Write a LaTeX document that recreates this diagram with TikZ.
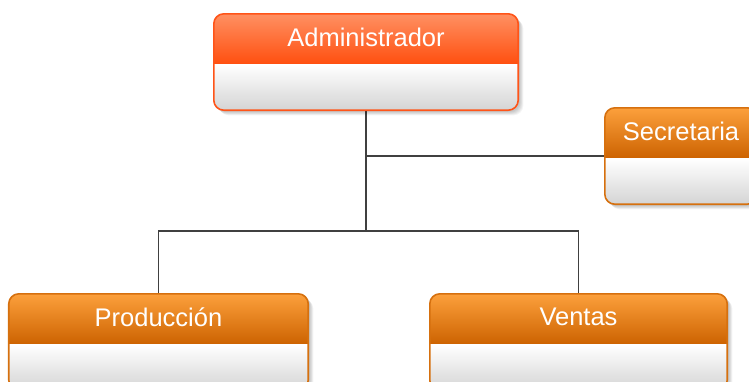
\documentclass[tikz,border=0pt]{standalone}
\usepackage{fontspec}
\setmainfont{Liberation Sans}
\definecolor{admTop}{RGB}{255,144,98}
\definecolor{admBot}{RGB}{255,78,14}
\definecolor{admLine}{RGB}{255,84,24}
\definecolor{orTop}{RGB}{252,160,60}
\definecolor{orBot}{RGB}{204,98,0}
\definecolor{orLine}{RGB}{214,112,14}
\definecolor{bodyBot}{RGB}{212,212,212}
\definecolor{conn}{RGB}{64,64,64}
\tikzset{
  boxframe/.style={minimum height=96bp, inner sep=0pt},
  boxtitle/.style={text=white, font=\fontsize{25.5bp}{30bp}\selectfont, anchor=center},
  link/.style={draw=conn, line width=1.4bp}
}
% #1 node name, #2 top colour, #3 bottom colour, #4 border colour, #5 title
\newcommand{\orgpaint}[5]{%
  \foreach \k in {1,...,6}{%
    \fill[black, opacity=0.04, rounded corners=10bp]
      ([xshift=1bp+0.7*\k bp, yshift=-1bp-0.7*\k bp]#1.north west) rectangle
      ([xshift=1bp+0.7*\k bp, yshift=-1bp-0.7*\k bp]#1.south east);}
  \begin{scope}
    \clip[rounded corners=10bp] (#1.north west) rectangle (#1.south east);
    \shade[top color=#2, bottom color=#3] (#1.north west) rectangle ([yshift=-51bp]#1.north east);
    \shade[top color=white, bottom color=bodyBot] ([yshift=-51bp]#1.north west) rectangle (#1.south east);
  \end{scope}
  \draw[#4, line width=1.6bp, rounded corners=10bp] (#1.north west) rectangle (#1.south east);
  \node[boxtitle] (#1t) at ([yshift=-23.5bp]#1.north) {#5};
}
\begin{document}
\begin{tikzpicture}[x=1bp,y=-1bp]
\useasboundingbox (0,0) rectangle (749,381);
\clip (0,0) rectangle (749,381);
\fill[white] (0,0) rectangle (749,381);
\coordinate (jb) at (366,231);
\node[boxframe, minimum width=304bp] (adm) at (366,62) {};
\node[boxframe, minimum width=152bp] (sec) at (681,156) {};
\node[boxframe, minimum width=299bp] (prod) at (158.5,342) {};
\node[boxframe, minimum width=297bp] (ven) at (578.5,342) {};
\draw[link] (adm.south) -- (jb);
\draw[link] (adm.south |- sec.west) -- (sec.west);
\draw[link] (prod.north) |- (jb) -| (ven.north);
\orgpaint{adm}{admTop}{admBot}{admLine}{Administrador}
\orgpaint{sec}{orTop}{orBot}{orLine}{Secretaria}
\orgpaint{prod}{orTop}{orBot}{orLine}{Producción}
\orgpaint{ven}{orTop}{orBot}{orLine}{Ventas}
\end{tikzpicture}
\end{document}
